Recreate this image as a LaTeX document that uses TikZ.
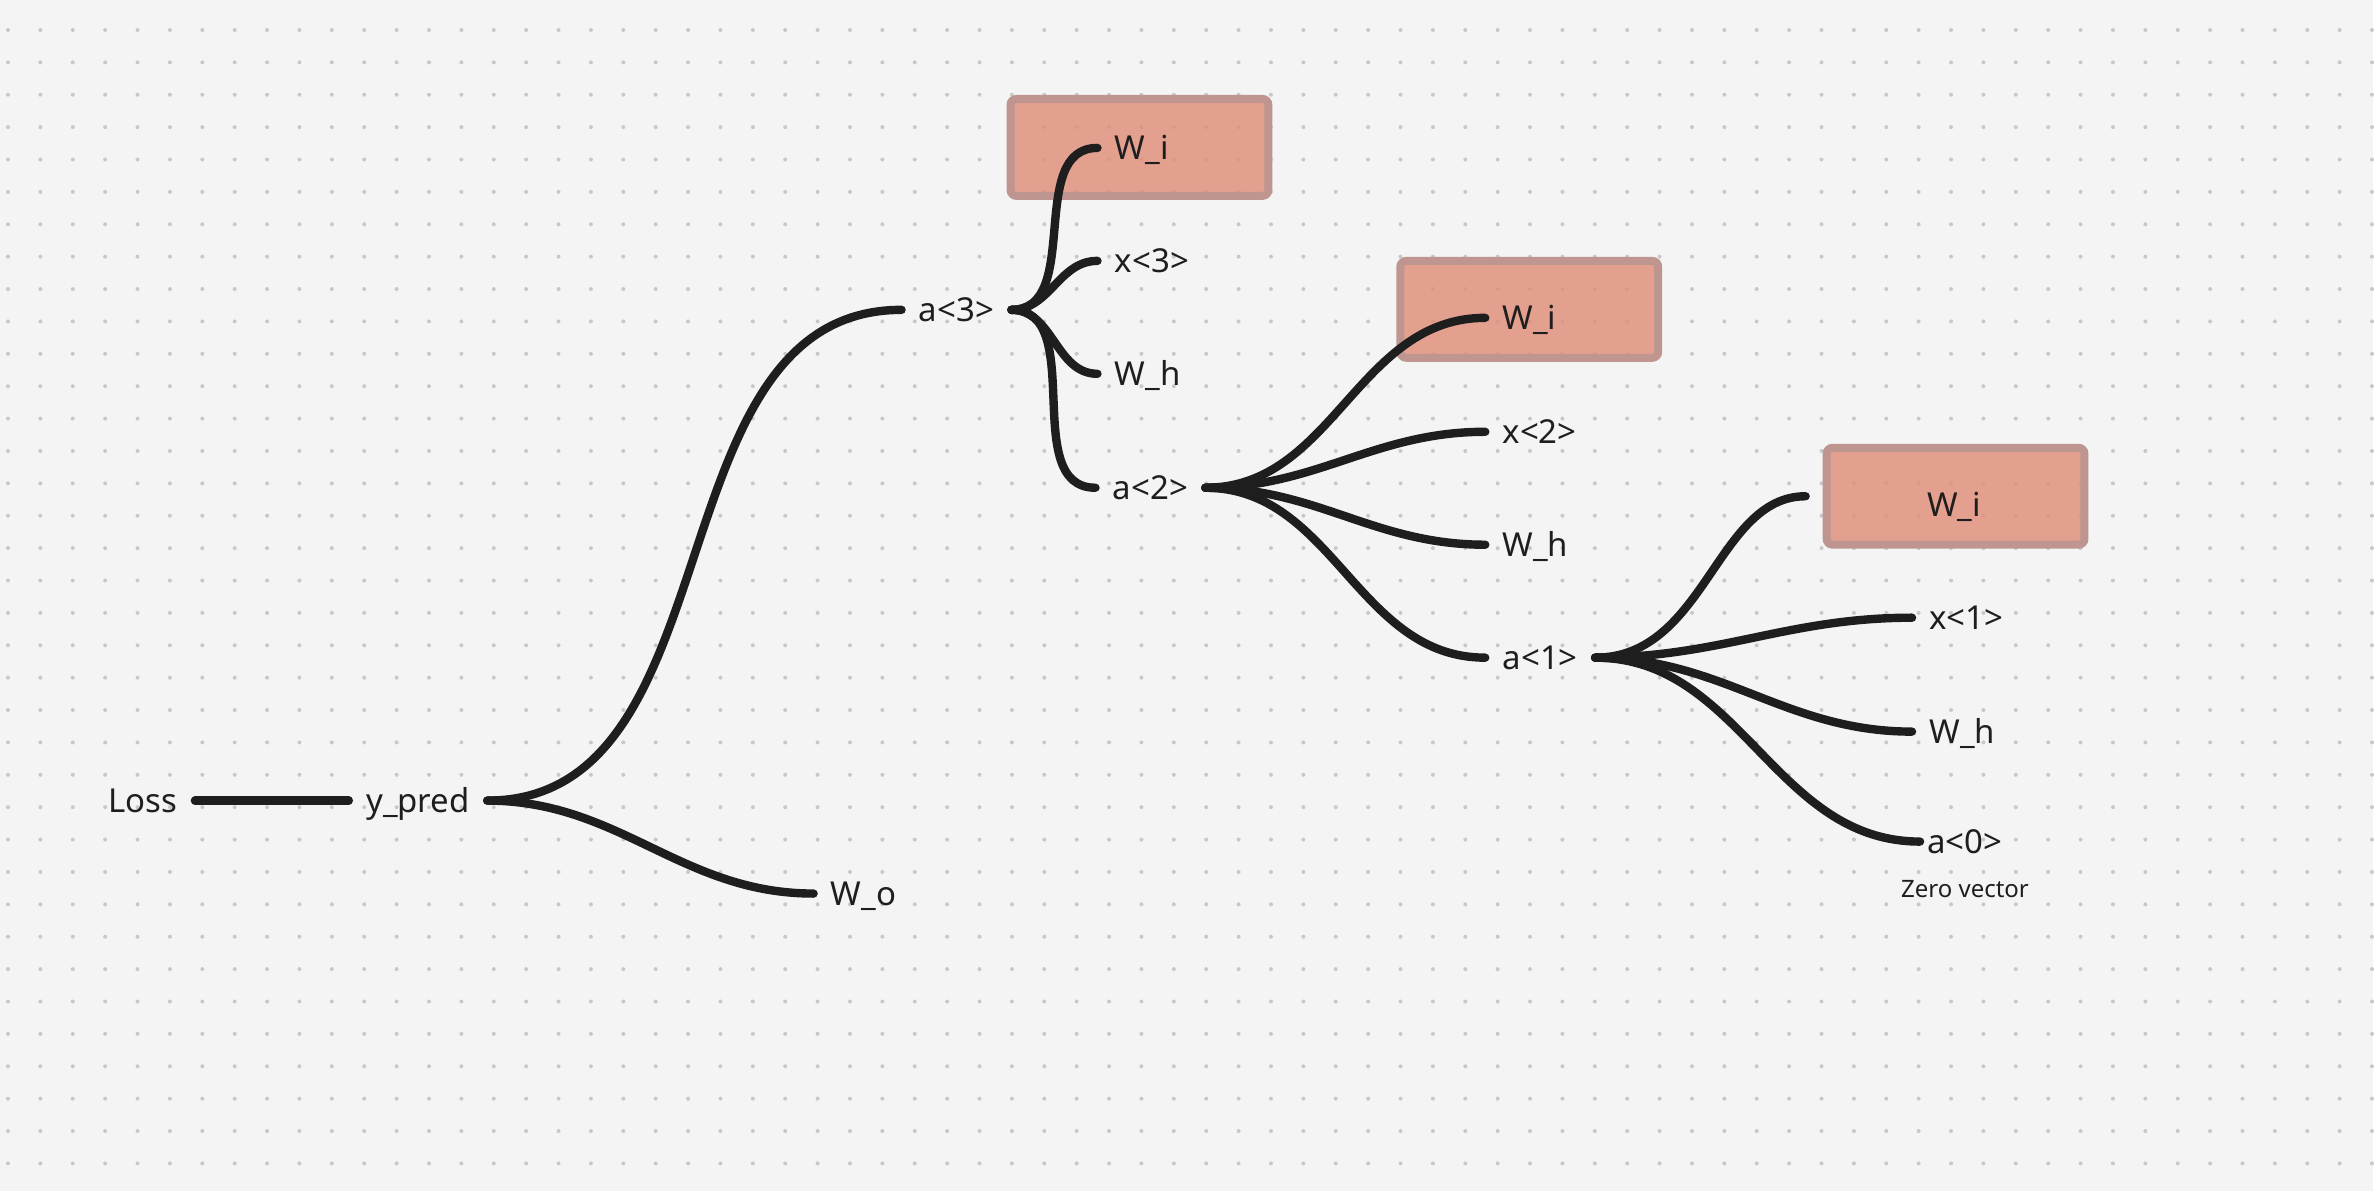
\documentclass[tikz,border=0pt]{standalone}
\usepackage{fontspec}
\setmainfont{Noto Sans}
\usepackage{tikz}
\usetikzlibrary{
  positioning
}
\definecolor{rnnpaper}{RGB}{244,244,244}
\definecolor{rnndot}{RGB}{200,200,200}
\definecolor{rnnink}{RGB}{30,30,30}
\definecolor{rnnfill}{RGB}{225,140,118}
\definecolor{rnnedge}{RGB}{191,149,144}
\tikzset{
  rnnLabel/.style={
    inner xsep=8.5pt,
    inner ysep=0pt,
    text height=11.8pt,
    text depth=0pt,
    text=rnnink,
    font=\fontsize{16.5}{20}\selectfont
  },
  rnnNote/.style={
    inner sep=0pt,
    text=rnnink,
    font=\fontsize{12}{14}\selectfont
  },
  rnnBox/.style={
    rectangle,
    rounded corners=3pt,
    draw=rnnedge,
    line width=4pt,
    fill=rnnfill,
    fill opacity=0.8,
    outer sep=0pt,
    minimum width=129pt,
    minimum height=48.5pt
  },
  rnnLink/.style={
    draw=rnnink,
    line width=4.2pt,
    line cap=round
  },
  rnnDot/.style={
    fill=rnndot
  }
}

\begin{document}
\begin{tikzpicture}[x=0.5pt, y=-0.5pt]
  % paper with dot grid
  \fill[rnnpaper] (0,0) rectangle (2374,1192);
  \foreach \i in {0,...,73}
    \foreach \j in {0,...,35}
      \fill[rnnDot] ({8+32.4*\i},{30+32.4*\j}) circle (1pt);

  % highlighted input weights
  \node[rnnBox] (box3) at (1140,147.5) {};
  \node[rnnBox] (box2) at (1530,309.5) {};
  \node[rnnBox] (box1) at (1956.5,496.5) {};

  \node[rnnLabel, anchor=east] (loss) at (195,801) {Loss};
  \node[rnnLabel, anchor=west] (ypred) at (349,801) {y\_pred};
  \node[rnnLabel, anchor=west] (wo) at (814,894) {W\_o};

  \node[rnnLabel, anchor=west] (a3) at (902,310) {a<3>};
  \node[rnnLabel, anchor=west] (wi3) at (1098,148) {W\_i};
  \node[rnnLabel, anchor=west] (x3) at (1098,261) {x<3>};
  \node[rnnLabel, anchor=west] (wh3) at (1098,374) {W\_h};
  \node[rnnLabel, anchor=west] (a2) at (1096,488) {a<2>};

  \node[rnnLabel, anchor=west] (wi2) at (1486,318) {W\_i};
  \node[rnnLabel, anchor=west] (x2) at (1486,432) {x<2>};
  \node[rnnLabel, anchor=west] (wh2) at (1486,545) {W\_h};
  \node[rnnLabel, anchor=west] (a1) at (1486,658) {a<1>};

  \node[rnnLabel] (wi1) at (1955,505) {W\_i};
  \node[rnnLabel, anchor=west] (x1) at (1913,618) {x<1>};
  \node[rnnLabel, anchor=west] (wh1) at (1913,732) {W\_h};
  \node[rnnLabel, anchor=west, inner xsep=3.5pt] (a0) at (1921,842) {a<0>};
  \node[rnnNote, below=13pt of a0] (zero) {Zero vector};

  \draw[rnnLink] (loss) -- (ypred);
  \draw[rnnLink] (ypred) to[out=0,in=180] (a3);
  \draw[rnnLink] (ypred) to[out=0,in=180] (wo);

  \draw[rnnLink] (a3) to[out=0,in=180] (wi3);
  \draw[rnnLink] (a3) to[out=0,in=180] (x3);
  \draw[rnnLink] (a3) to[out=0,in=180] (wh3);
  \draw[rnnLink] (a3) to[out=0,in=180] (a2);

  \draw[rnnLink] (a2) to[out=0,in=180] (wi2);
  \draw[rnnLink] (a2) to[out=0,in=180] (x2);
  \draw[rnnLink] (a2) to[out=0,in=180] (wh2);
  \draw[rnnLink] (a2) to[out=0,in=180] (a1);

  \draw[rnnLink, shorten >=10.5pt] (a1) to[out=0,in=180] (box1);
  \draw[rnnLink] (a1) to[out=0,in=180] (x1);
  \draw[rnnLink] (a1) to[out=0,in=180] (wh1);
  \draw[rnnLink] (a1) to[out=0,in=180] (a0);
\end{tikzpicture}
\end{document}
